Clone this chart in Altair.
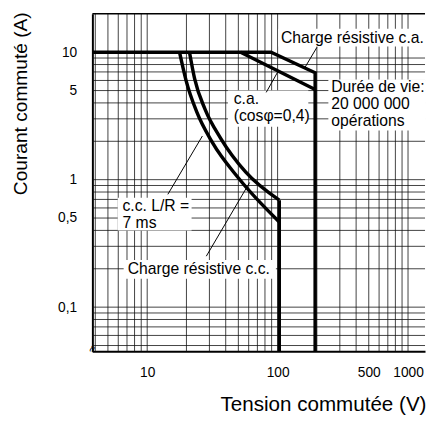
import altair as alt
import pandas as pd

FONT = "Liberation Sans"

# ---- data ----
ac_res_x = [3.8, 89, 194, 194]
ac_res_y = [10, 10, 6.9, 0.045]
ac_cos_x = [52, 194]
ac_cos_y = [10, 5.1]
dc_lr_x = [17.7, 19.9, 23.9, 31.5, 49.9, 103]
dc_lr_y = [10, 5.96, 3.43, 1.97, 1.035, 0.466]
dc_res_x = [21.1, 23.1, 27.8, 36.6, 56.8, 103]
dc_res_y = [10, 6.19, 3.56, 2.11, 1.15, 0.69]
dc_vert_x = [103, 103]
dc_vert_y = [0.69, 0.045]

x_ticks = [10, 100, 500, 1000]
y_ticks = [0.1, 0.5, 1, 5, 10]
grid_x = [4, 5, 6, 7, 8, 9, 10, 20, 30, 40, 50, 60, 70, 80, 90,
          100, 200, 300, 400, 500, 600, 700, 800, 900, 1000]
grid_y = [0.05, 0.06, 0.07, 0.08, 0.09, 0.1, 0.2, 0.3, 0.4, 0.5, 0.6, 0.7, 0.8, 0.9,
          1, 2, 3, 4, 5, 6, 7, 8, 9]

# annotation texts (data-space anchors)
ann_text = ["Charge résistive c.a.", "c.a.", "(cosφ=0,4)", "Durée de vie:", "20 000 000",
            "opérations", "c.c. L/R =", "7 ms", "Charge résistive c.c."]
ann_x = [106, 46.1, 46.1, 258, 258, 258, 6.47, 6.47, 7.1]
ann_y = [13.0, 4.3, 3.13, 5.33, 3.91, 2.87, 0.62, 0.46, 0.2]

box_x1 = [101, 41.6, 245, 5.94, 6.6]
box_x2 = [1350, 172, 1350, 21.9, 97]
box_y1 = [15.3, 5.01, 6.1, 0.72, 0.234]
box_y2 = [11.1, 2.6, 2.43, 0.4, 0.167]

lead_x1 = [200, 81.8, 14.4, 28.4]
lead_y1 = [10.9, 4.84, 0.767, 0.251]
lead_x2 = [160, 101, 26.5, 61]
lead_y2 = [7.43, 7.1, 2.2, 0.95]

XMIN, XMAX = 3.8, 1350
YMIN, YMAX = 0.045, 20

xscale = alt.Scale(type="log", domain=[XMIN, XMAX], nice=False)
yscale = alt.Scale(type="log", domain=[YMIN, YMAX], nice=False)

x_axis = alt.Axis(values=x_ticks, format="~g", grid=False, ticks=False,
                  labelPadding=15, labelFontSize=14, labelFont=FONT, labelColor="black",
                  labelFlush=False, labelOverlap=False,
                  domainColor="black", domainWidth=2,
                  title="Tension commutée (V)", titleFont=FONT, titleFontSize=21,
                  titleFontWeight="normal", titleColor="black",
                  titleAlign="right", titleBaseline="middle", titleX=340, titleY=54)
y_axis = alt.Axis(values=y_ticks, format="~g", labelExpr="replace(datum.label, '.', ',')",
                  grid=False, ticks=False,
                  labelPadding=16, labelFontSize=14, labelFont=FONT, labelColor="black",
                  labelFlush=False, labelOverlap=False,
                  domainColor="black", domainWidth=2,
                  title="Courant commuté (A)", titleFont=FONT, titleFontSize=19.5,
                  titleFontWeight="normal", titleColor="black", titleAngle=270,
                  titleAlign="right", titleBaseline="middle", titleX=-73, titleY=-2)


def X(field):
    return alt.X(field, scale=xscale, axis=x_axis, title="Tension commutée (V)")


def Y(field):
    return alt.Y(field, scale=yscale, axis=y_axis, title="Courant commuté (A)")


gx = alt.Chart(pd.DataFrame({"gx": grid_x})).mark_rule(color="#111", strokeWidth=0.8).encode(
    x=X("gx:Q"))
gy = alt.Chart(pd.DataFrame({"gy": grid_y})).mark_rule(color="#111", strokeWidth=0.8).encode(
    y=Y("gy:Q"))
top = alt.Chart(pd.DataFrame({"t": [YMAX]})).mark_rule(color="black", strokeWidth=1.5).encode(
    y=Y("t:Q"))

boxes = alt.Chart(pd.DataFrame({"x1": box_x1, "x2": box_x2, "y1": box_y1, "y2": box_y2})).mark_rect(
    fill="white").encode(x=X("x1:Q"), x2="x2:Q", y=Y("y1:Q"), y2="y2:Q")

leaders = alt.Chart(pd.DataFrame({"x1": lead_x1, "y1": lead_y1, "x2": lead_x2, "y2": lead_y2})).mark_rule(
    color="black", strokeWidth=1).encode(x=X("x1:Q"), x2="x2:Q", y=Y("y1:Q"), y2="y2:Q")


def series_df(xs, ys, name):
    return pd.DataFrame({"x": xs, "y": ys, "s": name, "o": list(range(len(xs)))})


lin_df = pd.concat([series_df(ac_res_x, ac_res_y, "acr"),
                    series_df(ac_cos_x, ac_cos_y, "acc"),
                    series_df(dc_vert_x, dc_vert_y, "dcv")])
curve_df = pd.concat([series_df(dc_lr_x, dc_lr_y, "lr"),
                      series_df(dc_res_x, dc_res_y, "res")])

lin = alt.Chart(lin_df).mark_line(color="black", strokeWidth=3.5, strokeJoin="miter").encode(
    x=X("x:Q"), y=Y("y:Q"), detail="s:N", order="o:Q")
curves = alt.Chart(curve_df).mark_line(color="black", strokeWidth=3.5, interpolate="monotone").encode(
    x=X("x:Q"), y=Y("y:Q"), detail="s:N", order="o:Q")

texts = alt.Chart(pd.DataFrame({"x": ann_x, "y": ann_y, "t": ann_text})).mark_text(
    align="left", baseline="middle", font=FONT, fontSize=16, color="black").encode(
    x=X("x:Q"), y=Y("y:Q"), text="t:N")

brk = alt.Chart(pd.DataFrame({"x": [XMIN], "y": [YMIN]})).mark_text(
    text="≈", angle=290, fontSize=12, color="black", font=FONT, dx=2, dy=-1).encode(
    x=X("x:Q"), y=Y("y:Q"))

chart = alt.layer(gx, gy, top, boxes, leaders, lin, curves, texts, brk).properties(
    width=339, height=344,
    padding={"left": 3, "top": 0, "right": 0, "bottom": 0},
).configure_view(strokeWidth=0)

chart.save("out.html", embed_options={"renderer": "svg", "actions": False})
